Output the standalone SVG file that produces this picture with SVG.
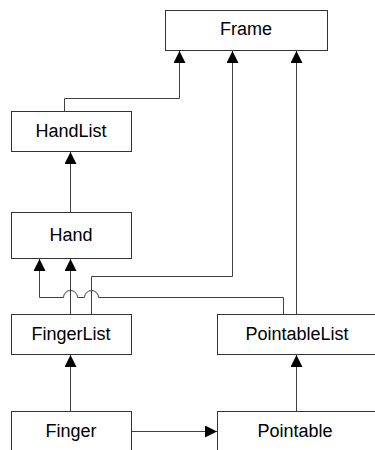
<svg xmlns="http://www.w3.org/2000/svg" width="375" height="450" viewBox="0 0 375 450">
<style>
.box{fill:#fff;stroke:#333;stroke-width:1}
.lbl{font-family:"Liberation Sans",Arial,sans-serif;font-size:18px;fill:#000;text-anchor:middle}
.c{fill:none;stroke:#404040;stroke-width:1;marker-end:url(#ah)}
.cn{fill:none;stroke:#404040;stroke-width:1}
</style>
<defs>
<marker id="ah" markerUnits="userSpaceOnUse" markerWidth="12" markerHeight="12" viewBox="0 0 11 11" refX="11" refY="5.5" orient="auto">
<path d="M0,0 L11,5.5 L0,11 z" fill="#000"/>
</marker>
</defs>
<rect width="375" height="450" fill="#fff"/>
<g id="Frame"><rect class="box" x="165.5" y="10.5" width="162" height="40"/><text class="lbl" x="246" y="35">Frame</text></g>
<g id="HandList"><rect class="box" x="11.5" y="111.5" width="120" height="40"/><text class="lbl" x="71" y="137">HandList</text></g>
<g id="Hand"><rect class="box" x="11.5" y="212.5" width="120" height="46"/><text class="lbl" x="71" y="241">Hand</text></g>
<g id="FingerList"><rect class="box" x="11.5" y="314.5" width="120" height="40"/><text class="lbl" x="71" y="340">FingerList</text></g>
<g id="PointableList"><rect class="box" x="217.5" y="314.5" width="162" height="40"/><text class="lbl" x="297" y="340">PointableList</text></g>
<g id="Finger"><rect class="box" x="11.5" y="411.5" width="120" height="46"/><text class="lbl" x="71" y="437">Finger</text></g>
<g id="Pointable"><rect class="box" x="217.5" y="411.5" width="162" height="46"/><text class="lbl" x="295" y="437">Pointable</text></g>
<g id="connectors">
<path class="c" d="M64.5 111 V98.5 H179.5 V51"/>
<path class="c" d="M70.5 212 V152"/>
<path class="c" d="M70.5 314 V259"/>
<path class="c" d="M91.5 314 V276.5 H232.5 V51"/>
<path class="c" d="M283.5 314 V297.5 H98.5 A7 7 0 0 0 84.5 297.5 H77.5 A7 7 0 0 0 63.5 297.5 H39.5 V259"/>
<path class="c" d="M296.5 314 V51"/>
<path class="c" d="M70.5 411 V355"/>
<path class="c" d="M296.5 411 V355"/>
<path class="c" d="M132 431.5 H217"/>
</g>
</svg>
